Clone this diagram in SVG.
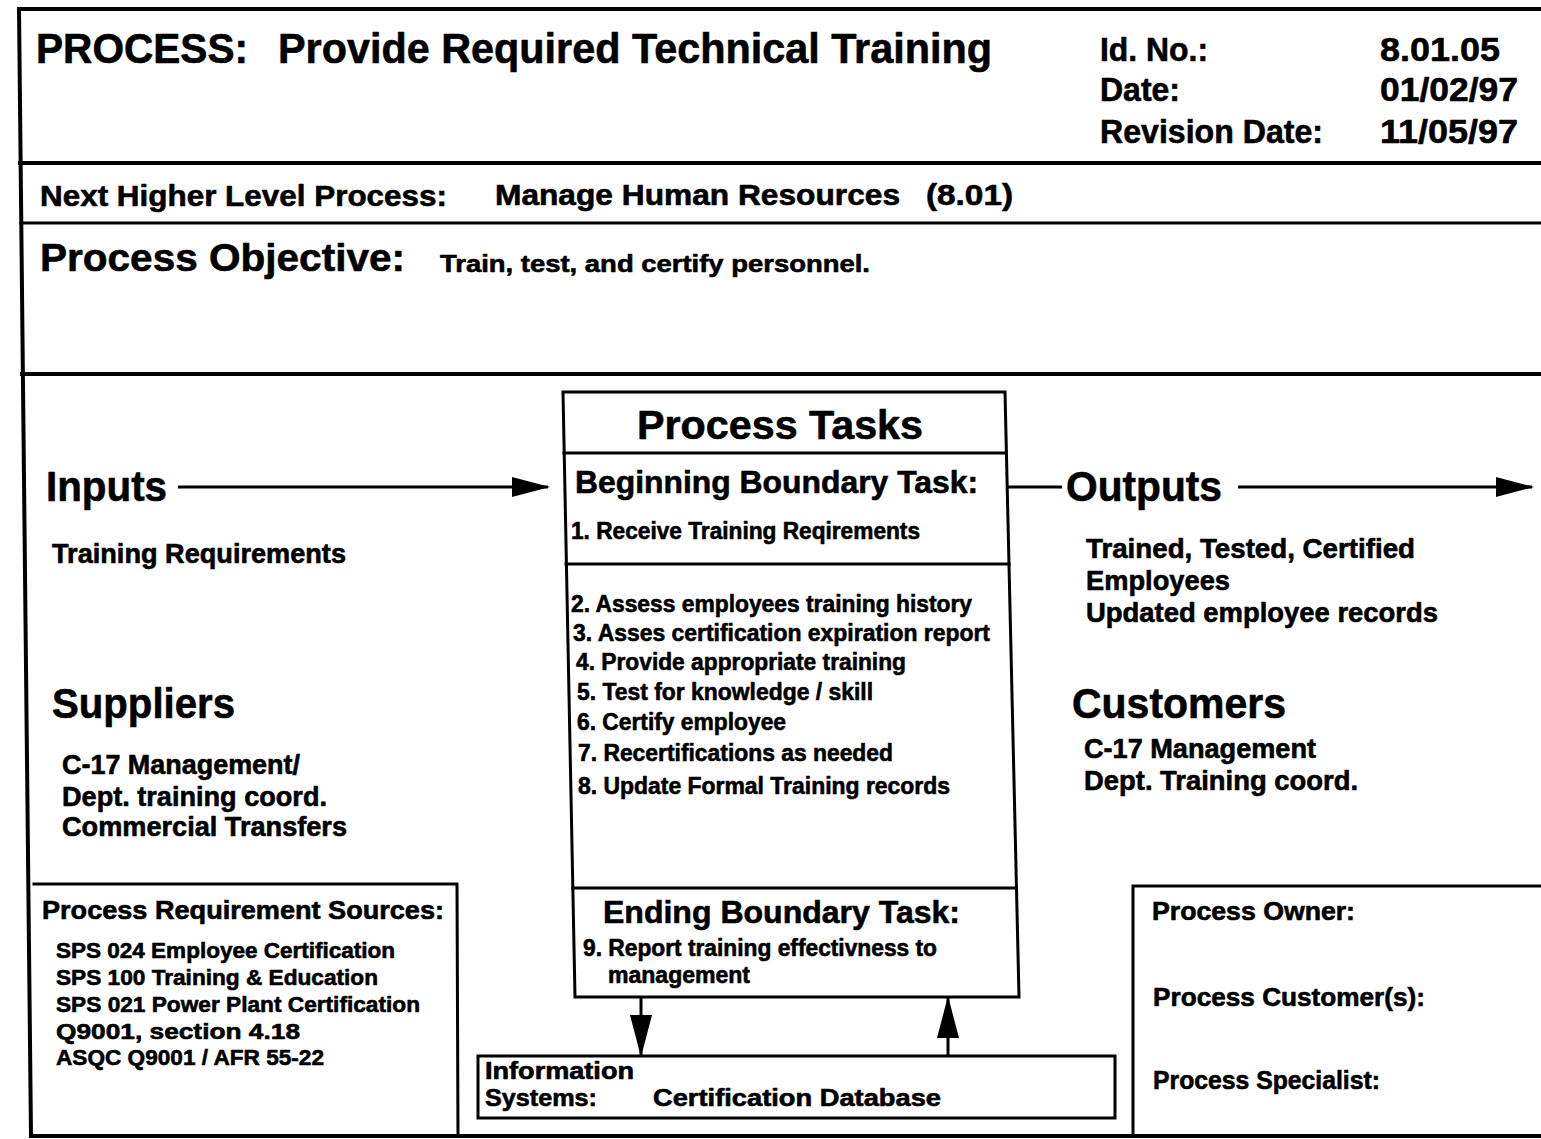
<svg xmlns="http://www.w3.org/2000/svg" width="1541" height="1139" viewBox="0 0 1541 1139">
  <style>
    .ln { stroke: #000; fill: none; stroke-linecap: square; }
    .frame { stroke-width: 4; }
    .rule { stroke-width: 3; }
    .box { stroke-width: 3; }
    .conn { stroke: #000; stroke-width: 3; fill: none; }
    .t { font-family: "Liberation Sans", Arial, Helvetica, sans-serif; font-weight: bold; fill: #000; stroke: #000; stroke-width: 0.6; stroke-linejoin: round; }
    .title { font-size: 43px; }
    .meta { font-size: 33px; }
    .next { font-size: 30px; }
    .obj { font-size: 39px; }
    .objtxt { font-size: 24px; }
    .head { font-size: 43px; }
    .body { font-size: 27px; }
    .tasks-h { font-size: 40px; }
    .bound { font-size: 32px; }
    .task { font-size: 23px; }
    .src-h { font-size: 25px; }
    .src { font-size: 22px; }
    .info { font-size: 23px; }
    .role { font-size: 25px; }
  </style>
  <defs>
    <marker id="arrowH" markerUnits="userSpaceOnUse" viewBox="0 0 38 20" markerWidth="38" markerHeight="20" refX="36" refY="10" orient="auto">
      <path d="M0,0 L38,10 L0,20 z" fill="#000"/>
    </marker>
    <marker id="arrowV" markerUnits="userSpaceOnUse" viewBox="0 0 42 22" markerWidth="42" markerHeight="22" refX="40" refY="11" orient="auto">
      <path d="M0,0 L42,11 L0,22 z" fill="#000"/>
    </marker>
  </defs>

  <rect width="1541" height="1139" fill="#fff"/>

  <!-- form frame and horizontal rules -->
  <g id="frame">
    <line class="ln frame" x1="19" y1="9" x2="1541" y2="9"/>
    <line class="ln frame" x1="19" y1="9" x2="31" y2="1136"/>
    <line class="ln frame" x1="20" y1="163" x2="1541" y2="163"/>
    <line class="ln rule" x1="21" y1="223" x2="1541" y2="223"/>
    <line class="ln frame" x1="22" y1="374" x2="1541" y2="374"/>
    <line class="ln frame" x1="31" y1="1136" x2="1541" y2="1136"/>
  </g>

  <!-- header block -->
  <g id="header">
    <text class="t title" x="36" y="63" textLength="212" lengthAdjust="spacingAndGlyphs">PROCESS:</text>
    <text class="t title" x="278" y="63" textLength="714" lengthAdjust="spacingAndGlyphs">Provide Required Technical Training</text>
    <text class="t meta" x="1100" y="61" textLength="108" lengthAdjust="spacingAndGlyphs">Id. No.:</text>
    <text class="t meta" x="1100" y="101" textLength="80" lengthAdjust="spacingAndGlyphs">Date:</text>
    <text class="t meta" x="1100" y="143" textLength="223" lengthAdjust="spacingAndGlyphs">Revision Date:</text>
    <text class="t meta" x="1380" y="61" textLength="120" lengthAdjust="spacingAndGlyphs">8.01.05</text>
    <text class="t meta" x="1380" y="101" textLength="138" lengthAdjust="spacingAndGlyphs">01/02/97</text>
    <text class="t meta" x="1380" y="143" textLength="138" lengthAdjust="spacingAndGlyphs">11/05/97</text>
  </g>

  <g id="next-level">
    <text class="t next" x="40" y="206" textLength="407" lengthAdjust="spacingAndGlyphs">Next Higher Level Process:</text>
    <text class="t next" x="495" y="205" textLength="405" lengthAdjust="spacingAndGlyphs">Manage Human Resources</text>
    <text class="t next" x="926" y="205" textLength="87" lengthAdjust="spacingAndGlyphs">(8.01)</text>
  </g>

  <g id="objective">
    <text class="t obj" x="40" y="271" textLength="365" lengthAdjust="spacingAndGlyphs">Process Objective:</text>
    <text class="t objtxt" x="440" y="272" textLength="430" lengthAdjust="spacingAndGlyphs">Train, test, and certify personnel.</text>
  </g>

  <!-- inputs / suppliers -->
  <g id="inputs">
    <text class="t head" x="46" y="501" textLength="121" lengthAdjust="spacingAndGlyphs">Inputs</text>
    <text class="t body" x="52" y="563" textLength="294" lengthAdjust="spacingAndGlyphs">Training Requirements</text>
  </g>
  <g id="suppliers">
    <text class="t head" x="52" y="718" textLength="183" lengthAdjust="spacingAndGlyphs">Suppliers</text>
    <text class="t body" x="62" y="774" textLength="238" lengthAdjust="spacingAndGlyphs">C-17 Management/</text>
    <text class="t body" x="62" y="806" textLength="265" lengthAdjust="spacingAndGlyphs">Dept. training coord.</text>
    <text class="t body" x="62" y="836" textLength="285" lengthAdjust="spacingAndGlyphs">Commercial Transfers</text>
  </g>

  <!-- central task box -->
  <g id="process-tasks">
    <polygon class="ln box" points="563,392 1005,392 1019,997 575,997"/>
    <line class="ln box" x1="564" y1="453" x2="1006" y2="453"/>
    <line class="ln box" x1="566" y1="564" x2="1009" y2="564"/>
    <line class="ln box" x1="573" y1="888" x2="1016" y2="888"/>
    <text class="t tasks-h" x="637" y="439" textLength="286" lengthAdjust="spacingAndGlyphs">Process Tasks</text>
    <text class="t bound" x="575" y="493" textLength="403" lengthAdjust="spacingAndGlyphs">Beginning Boundary Task:</text>
    <text class="t task" x="571" y="539" textLength="349" lengthAdjust="spacingAndGlyphs">1. Receive Training Reqirements</text>
    <text class="t task" x="571" y="612" textLength="401" lengthAdjust="spacingAndGlyphs">2. Assess employees training history</text>
    <text class="t task" x="573" y="641" textLength="417" lengthAdjust="spacingAndGlyphs">3. Asses certification expiration report</text>
    <text class="t task" x="576" y="670" textLength="330" lengthAdjust="spacingAndGlyphs">4. Provide appropriate training</text>
    <text class="t task" x="577" y="700" textLength="296" lengthAdjust="spacingAndGlyphs">5. Test for knowledge / skill</text>
    <text class="t task" x="577" y="730" textLength="209" lengthAdjust="spacingAndGlyphs">6. Certify employee</text>
    <text class="t task" x="578" y="761" textLength="315" lengthAdjust="spacingAndGlyphs">7. Recertifications as needed</text>
    <text class="t task" x="578" y="794" textLength="372" lengthAdjust="spacingAndGlyphs">8. Update Formal Training records</text>
    <text class="t bound" x="603" y="923" textLength="357" lengthAdjust="spacingAndGlyphs">Ending Boundary Task:</text>
    <text class="t task" x="583" y="956" textLength="354" lengthAdjust="spacingAndGlyphs">9. Report training effectivness to</text>
    <text class="t task" x="608" y="983" textLength="142" lengthAdjust="spacingAndGlyphs">management</text>
  </g>

  <!-- outputs / customers -->
  <g id="outputs">
    <text class="t head" x="1066" y="501" textLength="156" lengthAdjust="spacingAndGlyphs">Outputs</text>
    <text class="t body" x="1086" y="558" textLength="329" lengthAdjust="spacingAndGlyphs">Trained, Tested, Certified</text>
    <text class="t body" x="1086" y="590" textLength="144" lengthAdjust="spacingAndGlyphs">Employees</text>
    <text class="t body" x="1086" y="622" textLength="352" lengthAdjust="spacingAndGlyphs">Updated employee records</text>
  </g>
  <g id="customers">
    <text class="t head" x="1072" y="718" textLength="214" lengthAdjust="spacingAndGlyphs">Customers</text>
    <text class="t body" x="1084" y="758" textLength="232" lengthAdjust="spacingAndGlyphs">C-17 Management</text>
    <text class="t body" x="1084" y="790" textLength="274" lengthAdjust="spacingAndGlyphs">Dept. Training coord.</text>
  </g>

  <!-- requirement sources -->
  <g id="requirement-sources">
    <polyline class="ln box" points="34,884 457,884 458,1136"/>
    <text class="t src-h" x="42" y="919" textLength="402" lengthAdjust="spacingAndGlyphs">Process Requirement Sources:</text>
    <text class="t src" x="56" y="958" textLength="339" lengthAdjust="spacingAndGlyphs">SPS 024 Employee Certification</text>
    <text class="t src" x="56" y="985" textLength="322" lengthAdjust="spacingAndGlyphs">SPS 100 Training &amp; Education</text>
    <text class="t src" x="56" y="1012" textLength="364" lengthAdjust="spacingAndGlyphs">SPS 021 Power Plant Certification</text>
    <text class="t src" x="56" y="1039" textLength="244" lengthAdjust="spacingAndGlyphs">Q9001, section 4.18</text>
    <text class="t src" x="56" y="1065" textLength="268" lengthAdjust="spacingAndGlyphs">ASQC Q9001 / AFR 55-22</text>
  </g>

  <!-- information systems -->
  <g id="information-systems">
    <rect class="ln box" x="478" y="1056" width="637" height="62"/>
    <text class="t info" x="485" y="1079" textLength="149" lengthAdjust="spacingAndGlyphs">Information</text>
    <text class="t info" x="485" y="1106" textLength="112" lengthAdjust="spacingAndGlyphs">Systems:</text>
    <text class="t info" x="653" y="1106" textLength="288" lengthAdjust="spacingAndGlyphs">Certification Database</text>
  </g>

  <!-- process roles -->
  <g id="process-roles">
    <polyline class="ln box" points="1133,1136 1133,886 1541,886"/>
    <text class="t role" x="1152" y="920" textLength="203" lengthAdjust="spacingAndGlyphs">Process Owner:</text>
    <text class="t role" x="1153" y="1006" textLength="272" lengthAdjust="spacingAndGlyphs">Process Customer(s):</text>
    <text class="t role" x="1153" y="1089" textLength="227" lengthAdjust="spacingAndGlyphs">Process Specialist:</text>
  </g>

  <!-- connectors -->
  <g id="connectors">
    <line class="conn" x1="178" y1="487" x2="548" y2="487" marker-end="url(#arrowH)"/>
    <line class="conn" x1="1007" y1="487" x2="1062" y2="487"/>
    <line class="conn" x1="1238" y1="487" x2="1532" y2="487" marker-end="url(#arrowH)"/>
    <line class="conn" x1="641" y1="998" x2="641" y2="1055" marker-end="url(#arrowV)"/>
    <line class="conn" x1="948" y1="1055" x2="948" y2="998" marker-end="url(#arrowV)"/>
  </g>
</svg>
